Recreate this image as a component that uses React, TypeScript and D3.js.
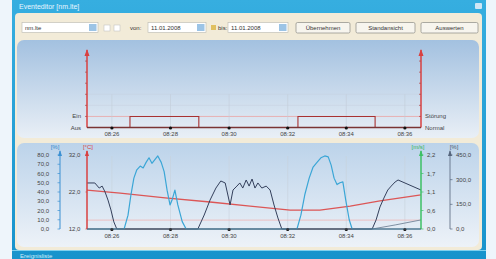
import React, { useEffect, useRef } from 'react';
import * as d3 from 'd3';

// time range + ticks
const xStart = '08:25:09';
const xEnd = '08:36:33';
const tickTimes = ['08:26', '08:28', '08:30', '08:32', '08:34', '08:36'];

// top chart: on/off state
const stateTimes = ['08:25:09', '08:26:37', '08:28:58', '08:32:21', '08:34:59', '08:36:33'];
const stateValues = [0, 1, 0, 1, 0, 0];
const stateLabelsLeft = ['Aus', 'Ein'];
const stateLabelsRight = ['Normal', 'Störung'];

// bottom chart series
const cyanTimes = ['08:25:09', '08:26:25', '08:26:33', '08:26:39', '08:26:45', '08:26:51', '08:26:58', '08:27:04', '08:27:10', '08:27:16', '08:27:22', '08:27:28', '08:27:34', '08:27:41', '08:27:47', '08:27:53', '08:27:59', '08:28:03', '08:28:09', '08:28:15', '08:28:24', '08:28:32', '08:32:19', '08:32:27', '08:32:35', '08:32:44', '08:32:52', '08:33:00', '08:33:08', '08:33:16', '08:33:23', '08:33:29', '08:33:35', '08:33:41', '08:33:47', '08:33:53', '08:33:59', '08:34:06', '08:34:12', '08:36:33'];
const cyanValues = [0, 0, 15, 37, 55, 64, 68, 66, 72, 77, 71, 75, 79, 72, 62, 42, 26, 31, 42, 26, 8, 0, 0, 15, 37, 55, 67, 72, 77, 79, 78, 69, 55, 48, 50, 51, 31, 10, 0, 0];

const navyTimes = ['08:25:09', '08:25:25', '08:25:34', '08:25:40', '08:25:46', '08:25:52', '08:25:58', '08:26:04', '08:26:10', '08:28:56', '08:29:09', '08:29:21', '08:29:33', '08:29:43', '08:29:52', '08:30:02', '08:30:08', '08:30:16', '08:30:22', '08:30:28', '08:30:35', '08:30:41', '08:30:47', '08:30:53', '08:30:59', '08:31:07', '08:31:16', '08:31:24', '08:31:32', '08:31:40', '08:31:48', '08:34:53', '08:35:01', '08:35:09', '08:35:17', '08:35:25', '08:35:32', '08:35:40', '08:35:46', '08:36:33'];
const navyValues = [280, 280, 249, 261, 225, 176, 116, 43, 0, 0, 85, 176, 249, 292, 280, 146, 237, 261, 280, 249, 298, 261, 304, 249, 280, 249, 261, 237, 146, 67, 0, 0, 55, 134, 188, 237, 261, 286, 298, 237];

const tempTimes = ['08:25:09', '08:26:17', '08:27:49', '08:29:21', '08:30:43', '08:32:05', '08:33:06', '08:34:08', '08:35:09', '08:36:33'];
const tempValues = [22.5, 21.7, 20.4, 19.3, 18.2, 17.1, 17.1, 18.2, 19.6, 21.2];
const tempLimit = 14.4;

const grayTimes = ['08:25:09', '08:34:53', '08:35:40', '08:36:33'];
const grayValues = [0, 0, 0.12, 0.27];

// axis ticks
const pctTicks = [0, 10, 20, 30, 40, 50, 60, 70, 80];
const tempTicks = [12, 22, 32];
const windTicks = [0, 0.55, 1.1, 1.65, 2.2];
const windTickLabels = ['0,0', '0,6', '1,1', '1,7', '2,2'];
const radTicks = [0, 150, 300, 450];

const App = () => {
  const ref = useRef<SVGSVGElement>(null);

  useEffect(() => {
    const svg = d3.select(ref.current);
    svg.selectAll('*').remove();
    const font = 'Liberation Sans, Arial, sans-serif';
    const parse = d3.timeParse('%H:%M:%S');
    const parseHM = d3.timeParse('%H:%M');
    const fmt = (v: number) => v.toFixed(1).replace('.', ',');

    const defs = svg.append('defs');
    const g1 = defs.append('linearGradient').attr('id', 'pTop').attr('x1', 0).attr('x2', 0).attr('y1', 0).attr('y2', 1);
    g1.append('stop').attr('offset', '0%').attr('stop-color', '#a3c1e0');
    g1.append('stop').attr('offset', '100%').attr('stop-color', '#e9eff6');
    const g2 = defs.append('linearGradient').attr('id', 'pBot').attr('x1', 0).attr('x2', 0).attr('y1', 0).attr('y2', 1);
    g2.append('stop').attr('offset', '0%').attr('stop-color', '#bcd3ea');
    g2.append('stop').attr('offset', '100%').attr('stop-color', '#edf2f8');
    const g3 = defs.append('linearGradient').attr('id', 'blue').attr('x1', 0).attr('x2', 0).attr('y1', 0).attr('y2', 1);
    g3.append('stop').attr('offset', '0%').attr('stop-color', '#36aee0');
    g3.append('stop').attr('offset', '100%').attr('stop-color', '#1793cc');

    // window chrome
    svg.append('rect').attr('width', 496).attr('height', 259).attr('fill', '#eef5fb');
    svg.append('rect').attr('x', 12).attr('width', 474).attr('height', 259).attr('fill', 'url(#blue)');
    svg.append('text').attr('x', 19).attr('y', 9).text('Eventeditor [nm.lte]')
      .attr('font-family', font).attr('font-size', 7).attr('fill', '#e8f6ff');
    svg.append('rect').attr('x', 475).attr('y', 3).attr('width', 7).attr('height', 6).attr('fill', '#cfe6f5').attr('rx', 1);
    svg.append('rect').attr('x', 15).attr('y', 13).attr('width', 467).attr('height', 237).attr('fill', '#f2ebd8').attr('rx', 4);
    svg.append('line').attr('x1', 12).attr('x2', 486).attr('y1', 250.5).attr('y2', 250.5).attr('stroke', '#7fd0ee');
    svg.append('text').attr('x', 20).attr('y', 257.5).text('Ereignisliste')
      .attr('font-family', font).attr('font-size', 6).attr('fill', '#cdeefc');

    // toolbar
    const tb = svg.append('g').attr('font-family', font).attr('font-size', 6).attr('fill', '#333');
    const field = (x: number, w: number, label: string, drop: boolean) => {
      tb.append('rect').attr('x', x).attr('y', 22.5).attr('width', w).attr('height', 10).attr('fill', '#fff').attr('stroke', '#b8b8b0').attr('stroke-width', 0.6);
      tb.append('text').attr('x', x + 3).attr('y', 30).text(label);
      if (drop) tb.append('rect').attr('x', x + w - 9).attr('y', 24).attr('width', 7.5).attr('height', 7).attr('fill', '#9cc4e6');
    };
    field(22, 76, 'nm.lte', true);
    tb.append('rect').attr('x', 104).attr('y', 25).attr('width', 6).attr('height', 6).attr('fill', '#fff').attr('stroke', '#bbb').attr('stroke-width', 0.5);
    tb.append('rect').attr('x', 114).attr('y', 25).attr('width', 6).attr('height', 6).attr('fill', '#fff').attr('stroke', '#bbb').attr('stroke-width', 0.5);
    tb.append('text').attr('x', 130).attr('y', 30).text('von:');
    field(148, 58, '11.01.2008', true);
    tb.append('rect').attr('x', 211).attr('y', 25).attr('width', 5).attr('height', 5).attr('fill', '#e0c060');
    tb.append('text').attr('x', 218).attr('y', 30).text('bis:');
    field(228, 60, '11.01.2008', true);
    const button = (x: number, w: number, label: string) => {
      tb.append('rect').attr('x', x).attr('y', 22.5).attr('width', w).attr('height', 10.5).attr('fill', '#f7f5ee').attr('stroke', '#8a8a84').attr('stroke-width', 0.7).attr('rx', 1.5);
      tb.append('text').attr('x', x + w / 2).attr('y', 30).attr('text-anchor', 'middle').text(label);
    };
    button(296, 54, 'Übernehmen');
    button(356, 59, 'Standansicht');
    button(421, 57, 'Auswerten');

    // panels
    svg.append('rect').attr('x', 17).attr('y', 40).attr('width', 462).attr('height', 98).attr('rx', 7).attr('fill', 'url(#pTop)');
    svg.append('rect').attr('x', 17).attr('y', 143).attr('width', 462).attr('height', 104).attr('rx', 7).attr('fill', 'url(#pBot)');

    const x = d3.scaleTime().domain([parse(xStart)!, parse(xEnd)!]).range([87, 421]);
    const ticks = tickTimes.map(t => parseHM(t)!);

    // ---------- top chart ----------
    const yTop = d3.scaleLinear().domain([0, 7]).range([127.5, 50]);
    const top = svg.append('g');
    [2, 3].forEach(v => {
      top.append('line').attr('x1', 87).attr('x2', 421).attr('y1', yTop(v)).attr('y2', yTop(v)).attr('stroke', '#c6d2e0').attr('stroke-width', 0.6);
    });
    top.append('line').attr('x1', 87).attr('x2', 421).attr('y1', yTop(1)).attr('y2', yTop(1)).attr('stroke', '#eaa2a2').attr('stroke-width', 0.8);
    top.selectAll('.vg').data(ticks).join('line')
      .attr('x1', d => x(d)).attr('x2', d => x(d)).attr('y1', yTop(3)).attr('y2', yTop(0))
      .attr('stroke', '#c2ccd8').attr('stroke-width', 0.6);

    const stateData = stateTimes.map((t, i) => ({ t: parse(t)!, v: stateValues[i] }));
    top.append('path')
      .attr('d', d3.line<any>().curve(d3.curveStepAfter).x(d => x(d.t)).y(d => yTop(d.v))(stateData))
      .attr('fill', 'none').attr('stroke', '#a83232').attr('stroke-width', 1.1);

    [87, 421].forEach(ax => {
      top.append('line').attr('x1', ax).attr('x2', ax).attr('y1', yTop(0)).attr('y2', 50).attr('stroke', '#d94040').attr('stroke-width', 1.5);
      top.append('path').attr('d', `M${ax - 2.5},56 L${ax},49 L${ax + 2.5},56 Z`).attr('fill', '#d94040');
      d3.range(1, 7).forEach(v => {
        top.append('line').attr('x1', ax - 2).attr('x2', ax).attr('y1', yTop(v)).attr('y2', yTop(v)).attr('stroke', '#b04040').attr('stroke-width', 0.7);
      });
    });
    top.append('line').attr('x1', 87).attr('x2', 421).attr('y1', yTop(0)).attr('y2', yTop(0)).attr('stroke', '#7a3434').attr('stroke-width', 1.4);

    const tl = top.append('g').attr('font-family', font).attr('font-size', 6).attr('fill', '#444');
    stateLabelsLeft.forEach((s, i) => tl.append('text').attr('x', 81).attr('y', yTop(i) + 2).attr('text-anchor', 'end').text(s));
    stateLabelsRight.forEach((s, i) => tl.append('text').attr('x', 425).attr('y', yTop(i) + 2).text(s));
    ticks.forEach(t => {
      tl.append('circle').attr('cx', x(t)).attr('cy', yTop(0) + 0.5).attr('r', 1.6).attr('fill', '#111');
      tl.append('text').attr('x', x(t)).attr('y', 136).attr('text-anchor', 'middle').text(d3.timeFormat('%H:%M')(t));
    });

    // ---------- bottom chart ----------
    const yPct = d3.scaleLinear().domain([0, 80]).range([229, 155]);
    const yTemp = d3.scaleLinear().domain([12, 32]).range([229, 155]);
    const yWind = d3.scaleLinear().domain([0, 2.2]).range([229, 155]);
    const yRad = d3.scaleLinear().domain([0, 450]).range([229, 155]);
    const bot = svg.append('g');

    bot.selectAll('.vg').data(ticks).join('line')
      .attr('x1', d => x(d)).attr('x2', d => x(d)).attr('y1', 156).attr('y2', 229)
      .attr('stroke', '#c8d1dc').attr('stroke-width', 0.6);
    bot.append('line').attr('x1', 87).attr('x2', 421).attr('y1', yTemp(tempLimit)).attr('y2', yTemp(tempLimit)).attr('stroke', '#efb6b6').attr('stroke-width', 0.8);

    const series = (times: string[], values: number[], y: d3.ScaleLinear<number, number>, color: string, w: number) => {
      const data = times.map((t, i) => ({ t: parse(t)!, v: values[i] }));
      bot.append('path')
        .attr('d', d3.line<any>().x(d => x(d.t)).y(d => y(d.v))(data))
        .attr('fill', 'none').attr('stroke', color).attr('stroke-width', w).attr('stroke-linejoin', 'round');
    };
    series(grayTimes, grayValues, yWind, '#7f8fa2', 1);
    series(tempTimes, tempValues, yTemp, '#dc5656', 1.3);
    series(navyTimes, navyValues, yRad, '#34405c', 1);
    series(cyanTimes, cyanValues, yPct, '#3ba6d6', 1.2);

    const bl = bot.append('g').attr('font-family', font).attr('font-size', 6).attr('fill', '#444');
    const vAxis = (ax: number, color: string, vals: number[], y: d3.ScaleLinear<number, number>, labels: string[], side: number, w: number) => {
      bot.append('line').attr('x1', ax).attr('x2', ax).attr('y1', 229).attr('y2', 151).attr('stroke', color).attr('stroke-width', w);
      bot.append('path').attr('d', `M${ax - 2},156 L${ax},150 L${ax + 2},156 Z`).attr('fill', color);
      vals.forEach((v, i) => {
        bot.append('line').attr('x1', ax).attr('x2', ax + side * 2.5).attr('y1', y(v)).attr('y2', y(v)).attr('stroke', color).attr('stroke-width', 0.7);
        bl.append('text').attr('x', ax + side * (side < 0 ? 11 : 6)).attr('y', y(v) + 2)
          .attr('text-anchor', side < 0 ? 'end' : 'start').text(labels[i]);
      });
    };
    vAxis(60, '#3b90d2', pctTicks, yPct, pctTicks.map(fmt), -1, 1);
    vAxis(87, '#d94040', tempTicks, yTemp, tempTicks.map(fmt), -0.6, 1.5);
    vAxis(421, '#3cc064', windTicks, yWind, windTickLabels, 1, 1.5);
    vAxis(450, '#55657c', radTicks, yRad, radTicks.map(fmt), 1, 0.8);

    bot.append('line').attr('x1', 87).attr('x2', 421).attr('y1', 229).attr('y2', 229).attr('stroke', '#5a6270').attr('stroke-width', 1.2);
    ticks.forEach(t => {
      bl.append('circle').attr('cx', x(t)).attr('cy', 229.5).attr('r', 1.6).attr('fill', '#111');
      bl.append('text').attr('x', x(t)).attr('y', 238).attr('text-anchor', 'middle').text(d3.timeFormat('%H:%M')(t));
    });
    const hdr = [
      { x: 55, t: '[%]', c: '#2f86cc' },
      { x: 88, t: '[°C]', c: '#d94040' },
      { x: 418, t: '[m/s]', c: '#34b65a' },
      { x: 454, t: '[%]', c: '#4a5a70' },
    ];
    hdr.forEach(h => bl.append('text').attr('x', h.x).attr('y', 148.5).attr('text-anchor', 'middle').attr('fill', h.c).text(h.t));
  }, []);

  return (
    <svg ref={ref} width={496} height={259} style={{ position: 'absolute', left: 0, top: 0 }} />
  );
};

export default App;
